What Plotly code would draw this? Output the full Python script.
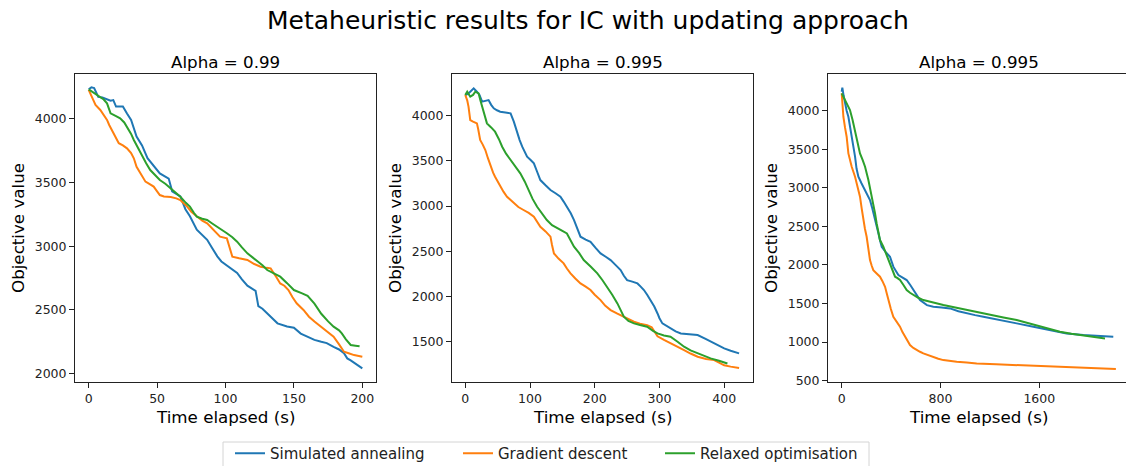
import plotly.graph_objects as go

# ---------------- data ----------------
series_names = ["Simulated annealing", "Gradient descent", "Relaxed optimisation"]
series_colors = ["#1f77b4", "#ff7f0e", "#2ca02c"]
subplot_titles = ["Alpha = 0.99", "Alpha = 0.995", "Alpha = 0.995"]
suptitle = "Metaheuristic results for IC with updating approach"
x_label = "Time elapsed (s)"
y_label = "Objective value"

# Panel 1 (Alpha = 0.99)
p1_sa_t = [0, 2, 4, 7, 10, 13, 16, 18, 20, 22, 25, 28, 31, 35, 39, 43, 48, 52, 56, 58.5, 61, 64, 67, 70.7, 74, 79, 83, 86.6, 90, 94, 97, 101, 105, 108.5, 112, 116, 122, 124, 127, 130.5, 134, 138, 145, 150, 155, 160, 165, 170, 174, 179, 183, 186.6, 189, 191.5, 195, 198, 200]
p1_sa_v = [4230, 4245, 4240, 4170, 4165, 4150, 4140, 4145, 4095, 4095, 4095, 4040, 3990, 3860, 3790, 3690, 3620, 3570, 3545, 3530, 3430, 3410, 3390, 3290, 3235, 3130, 3090, 3050, 2990, 2920, 2880, 2850, 2820, 2790, 2740, 2690, 2650, 2530, 2510, 2475, 2440, 2395, 2370, 2360, 2315, 2290, 2265, 2250, 2240, 2210, 2190, 2160, 2120, 2105, 2080, 2060, 2042]
p1_gd_t = [0, 3, 5, 8.5, 11, 13.4, 15, 17, 20, 22, 25, 28, 31, 33, 35, 38, 41.5, 44, 47.5, 50, 52, 55, 60, 64, 67, 70, 72, 75, 79, 83, 86.6, 91, 96, 101, 103, 105, 110, 116, 121, 125.6, 130, 133, 137, 140, 143, 146, 149, 152, 157, 161, 165, 169.5, 174, 179, 183, 186.6, 190, 194, 200]
p1_gd_v = [4225, 4150, 4107, 4068, 4030, 3990, 3950, 3911, 3850, 3807, 3790, 3767, 3730, 3689, 3623, 3570, 3506, 3490, 3467, 3430, 3401, 3390, 3385, 3375, 3362, 3330, 3310, 3270, 3231, 3200, 3179, 3130, 3075, 3061, 2990, 2918, 2905, 2892, 2860, 2839, 2830, 2826, 2760, 2708, 2690, 2656, 2600, 2552, 2500, 2447, 2410, 2369, 2330, 2290, 2230, 2172, 2160, 2146, 2133]
p1_ro_t = [0, 4, 8.5, 11, 13.4, 16, 20, 23, 26, 28, 31, 33, 36, 39, 42, 45, 48, 52, 56, 60, 64, 67, 71, 74, 77, 79, 83, 86.6, 90, 94, 98, 101, 105, 108.5, 112, 116, 120, 124, 127, 130.5, 135, 140, 145, 150, 156, 160, 165, 170, 175, 179, 183, 185, 188, 191.5, 195, 198]
p1_ro_v = [4230, 4200, 4172, 4150, 4120, 4042, 4020, 4003, 3970, 3937, 3880, 3833, 3770, 3702, 3650, 3597, 3560, 3519, 3490, 3454, 3420, 3388, 3340, 3310, 3260, 3231, 3215, 3205, 3180, 3153, 3120, 3101, 3070, 3035, 2990, 2944, 2910, 2878, 2850, 2813, 2790, 2761, 2710, 2656, 2630, 2610, 2550, 2470, 2410, 2369, 2340, 2316, 2270, 2225, 2220, 2215]

# Panel 2 (Alpha = 0.995)
p2_sa_t = [0, 4, 7.7, 13, 18, 22, 26, 31, 36, 40, 44, 49, 54, 62, 70, 75, 80, 84, 88, 92, 95.5, 101, 106, 111, 116, 124, 131.6, 140, 147, 152, 157, 163, 168, 173, 178, 186, 193.5, 201, 209, 217, 224.5, 232, 240, 245, 250, 258, 266, 271, 276, 281, 286, 292, 297, 300, 304.5, 310, 317, 325, 333, 345, 359, 372, 384.5, 392, 400, 410, 418, 423]
p2_sa_v = [4229, 4240, 4265, 4302, 4265, 4230, 4155, 4165, 4173, 4120, 4081, 4060, 4044, 4035, 4026, 3934, 3805, 3730, 3657, 3600, 3546, 3510, 3473, 3380, 3288, 3230, 3178, 3140, 3104, 3050, 2993, 2920, 2846, 2750, 2662, 2630, 2606, 2540, 2477, 2440, 2403, 2350, 2293, 2230, 2182, 2165, 2145, 2110, 2072, 2020, 1961, 1890, 1813, 1760, 1703, 1680, 1647, 1615, 1592, 1580, 1574, 1530, 1481, 1455, 1426, 1400, 1385, 1371]
p2_gd_t = [0, 3, 5, 7.7, 12, 18, 20, 23, 27, 31, 35, 39, 43, 46, 50, 54, 59, 64.5, 70, 75, 82, 90, 98, 106, 111, 116, 124, 131.6, 134, 137, 144, 152, 157, 162.6, 170, 178, 186, 193.5, 200, 209, 216, 224.5, 235, 245, 252, 260.6, 270, 281, 288, 297, 307, 317, 328, 338, 348, 359, 372, 384.5, 392, 400, 410, 423]
p2_gd_v = [4229, 4170, 4100, 3952, 3935, 3915, 3850, 3731, 3680, 3620, 3530, 3436, 3370, 3325, 3270, 3215, 3160, 3104, 3065, 3030, 2990, 2957, 2925, 2883, 2830, 2772, 2720, 2662, 2570, 2477, 2420, 2367, 2310, 2256, 2200, 2145, 2110, 2072, 2020, 1961, 1900, 1850, 1810, 1777, 1750, 1721, 1700, 1684, 1660, 1560, 1520, 1481, 1445, 1408, 1370, 1334, 1310, 1297, 1270, 1240, 1225, 1210]
p2_ro_t = [0, 3, 7.7, 12, 15.5, 20.6, 23, 26, 30, 33.5, 40, 46, 52, 57, 63, 70, 78, 85, 92, 98, 104, 111, 118, 126, 134, 142, 150, 157, 163, 168, 176, 183, 194, 204, 212, 219, 227, 235, 240, 245, 252, 260.6, 270, 281, 290, 297, 307, 317, 328, 338, 348, 359, 369, 379, 392, 405]
p2_ro_v = [4229, 4265, 4210, 4230, 4265, 4247, 4180, 4100, 4000, 3915, 3870, 3823, 3740, 3657, 3580, 3510, 3440, 3362, 3270, 3178, 3080, 2993, 2920, 2846, 2790, 2754, 2725, 2698, 2620, 2551, 2480, 2403, 2330, 2256, 2180, 2108, 2020, 1924, 1850, 1777, 1730, 1703, 1685, 1666, 1620, 1592, 1570, 1555, 1500, 1445, 1405, 1371, 1340, 1316, 1290, 1260]

# Panel 3 (Alpha = 0.995, long run)
p3_sa_t = [0, 5, 15, 27, 40, 54, 75, 94, 108, 120, 135, 160, 189, 210, 229, 245, 256, 275, 297, 310, 324, 355, 391, 405, 418, 440, 459, 490, 526, 555, 580, 605, 634, 690, 742, 810, 877, 945, 1012, 1080, 1147, 1280, 1417, 1552, 1686, 1821, 1956, 2080, 2199]
p3_sa_v = [4246, 4300, 4200, 4095, 4000, 3922, 3740, 3576, 3404, 3250, 3144, 3060, 2971, 2900, 2842, 2750, 2669, 2540, 2410, 2320, 2237, 2170, 2107, 2040, 1978, 1920, 1870, 1840, 1805, 1740, 1675, 1610, 1545, 1480, 1459, 1450, 1437, 1400, 1372, 1350, 1329, 1290, 1243, 1199, 1156, 1113, 1091, 1080, 1070]
p3_gd_t = [0, 5, 13.5, 27, 40, 54, 67, 81, 108, 128, 148, 162, 175, 188, 202, 215, 229, 243, 256, 283, 310, 330, 351, 365, 378, 398, 418, 445, 472, 492, 513, 533, 553, 580, 607, 634, 661, 700, 742, 782, 823, 877, 931, 1012, 1093, 1250, 1417, 1550, 1686, 1820, 1956, 2090, 2220]
p3_gd_v = [4225, 4100, 3922, 3780, 3663, 3447, 3350, 3274, 3144, 3020, 2885, 2730, 2583, 2470, 2366, 2200, 2064, 1990, 1934, 1890, 1848, 1790, 1718, 1630, 1545, 1430, 1329, 1260, 1200, 1130, 1070, 1010, 962, 925, 897, 875, 854, 830, 811, 785, 767, 755, 746, 735, 724, 713, 703, 692, 681, 670, 662, 656, 650]
p3_ro_t = [0, 13.5, 27, 40, 54, 67, 88, 108, 128, 148, 170, 189, 216, 236, 256, 270, 283, 297, 310, 337, 357, 378, 405, 432, 452, 472, 500, 526, 553, 580, 620, 661, 740, 823, 920, 1012, 1100, 1201, 1310, 1417, 1510, 1606, 1690, 1767, 1860, 1956, 2050, 2132]
p3_ro_v = [4225, 4182, 4140, 4095, 4050, 4009, 3880, 3749, 3600, 3447, 3360, 3274, 3101, 2950, 2799, 2670, 2539, 2420, 2323, 2237, 2150, 2064, 1950, 1848, 1830, 1805, 1740, 1675, 1640, 1610, 1575, 1545, 1510, 1481, 1448, 1416, 1385, 1351, 1318, 1286, 1245, 1200, 1165, 1135, 1110, 1091, 1068, 1048]

x_ticks = [[0, 50, 100, 150, 200], [0, 100, 200, 300, 400], [0, 800, 1600]]
y_ticks = [[2000, 2500, 3000, 3500, 4000], [1500, 2000, 2500, 3000, 3500, 4000],
           [500, 1000, 1500, 2000, 2500, 3000, 3500, 4000]]

panels = [
    [(p1_sa_t, p1_sa_v), (p1_gd_t, p1_gd_v), (p1_ro_t, p1_ro_v)],
    [(p2_sa_t, p2_sa_v), (p2_gd_t, p2_gd_v), (p2_ro_t, p2_ro_v)],
    [(p3_sa_t, p3_sa_v), (p3_gd_t, p3_gd_v), (p3_ro_t, p3_ro_v)],
]

# ---------------- layout constants (pixels) ----------------
W, H = 1126, 466
FONT = "DejaVu Sans"
x_dom_px = [(75, 376), (452, 753), (828, 1126)]
y_top_px, y_bot_px = 74, 382
x_ranges = [[-10, 210], [-20.5, 444.5], [-111, 2302]]
y_ranges = [[1935, 4350], [1055, 4461], [483, 4476]]


def px_x(p):
    return p / W


def px_y(p):
    return 1 - p / H


fig = go.Figure()
legend_keys = ["legend", "legend2", "legend3"]
for pi, panel in enumerate(panels):
    xa = "x" if pi == 0 else f"x{pi + 1}"
    ya = "y" if pi == 0 else f"y{pi + 1}"
    for si, (t, v) in enumerate(panel):
        fig.add_trace(go.Scatter(
            x=t, y=v, mode="lines", name=series_names[si],
            line=dict(color=series_colors[si], width=2),
            xaxis=xa, yaxis=ya,
            showlegend=(pi == 0), legend=legend_keys[si],
        ))

axis_common = dict(
    showline=True, linecolor="#222222", linewidth=1,
    ticks="outside", ticklen=5, tickwidth=1, tickcolor="#222222",
    showgrid=False, zeroline=False, automargin=False,
    tickfont=dict(family=FONT, size=12.5, color="#222222"),
)

layout = dict(
    width=W, height=H, autosize=False,
    margin=dict(l=0, r=0, t=0, b=0, pad=0, autoexpand=False),
    paper_bgcolor="white", plot_bgcolor="white",
    font=dict(family=FONT, color="black"),
)
for pi in range(3):
    xk = "xaxis" if pi == 0 else f"xaxis{pi + 1}"
    yk = "yaxis" if pi == 0 else f"yaxis{pi + 1}"
    ya = "y" if pi == 0 else f"y{pi + 1}"
    xa = "x" if pi == 0 else f"x{pi + 1}"
    l, r = x_dom_px[pi]
    layout[xk] = dict(axis_common, domain=[px_x(l), min(1.0, px_x(r))], anchor=ya,
                      range=x_ranges[pi], tickvals=x_ticks[pi], mirror=True)
    layout[yk] = dict(axis_common, domain=[px_y(y_bot_px), px_y(y_top_px)], anchor=xa,
                      range=y_ranges[pi], tickvals=y_ticks[pi], mirror=(pi < 2))
fig.update_layout(**layout)

# Titles / labels
ann = [dict(text=suptitle, x=px_x(588), y=px_y(20.7), xref="paper", yref="paper",
            xanchor="center", yanchor="middle", showarrow=False,
            font=dict(family=FONT, size=25, color="black"))]
centers = [225.5, 602.5, 978.5]
for pi in range(3):
    ann.append(dict(text=subplot_titles[pi], x=px_x(centers[pi]), y=px_y(62.3),
                    xref="paper", yref="paper", xanchor="center", yanchor="middle",
                    showarrow=False, font=dict(family=FONT, size=16.7, color="black")))
    ann.append(dict(text=x_label, x=px_x(centers[pi]), y=px_y(416.5),
                    xref="paper", yref="paper", xanchor="center", yanchor="middle",
                    showarrow=False, font=dict(family=FONT, size=16.7, color="black")))
    ann.append(dict(text=y_label, x=px_x(x_dom_px[pi][0] - 57), y=px_y(228),
                    xref="paper", yref="paper", xanchor="center", yanchor="middle",
                    textangle=-90, showarrow=False,
                    font=dict(family=FONT, size=16.7, color="black")))
fig.update_layout(annotations=ann)

# Legend frame and three positioned legends
fig.add_shape(type="rect", xref="paper", yref="paper",
              x0=px_x(223), x1=px_x(869), y0=px_y(442), y1=px_y(480),
              line=dict(color="#d4d4d4", width=1), fillcolor="white", layer="below")
leg_x = [230, 458, 660]
for k, lx in zip(legend_keys, leg_x):
    fig.update_layout(**{k: dict(
        orientation="h", xref="container", yref="container",
        x=px_x(lx), xanchor="left", y=px_y(437), yanchor="top",
        bgcolor="rgba(0,0,0,0)", borderwidth=0,
        font=dict(family=FONT, size=15, color="#222222"),
    )})

fig.write_html("out.html")
